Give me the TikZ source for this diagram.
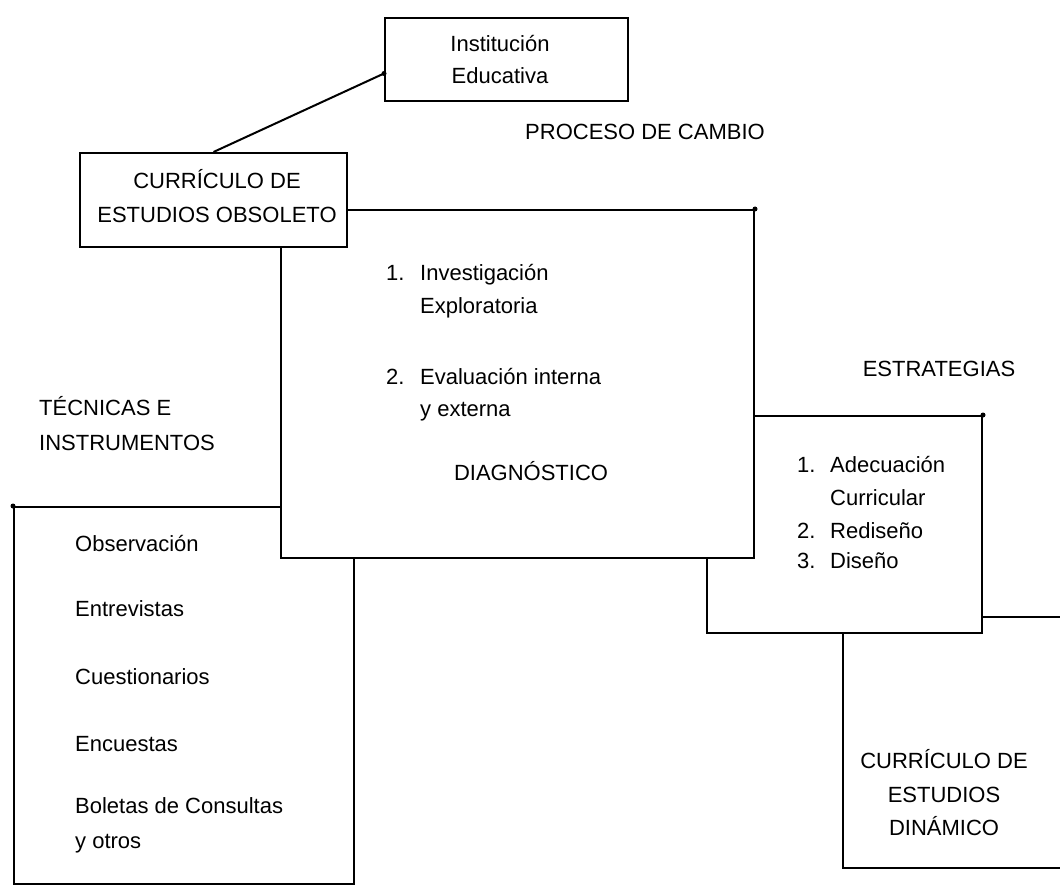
\documentclass[tikz,border=0pt]{standalone}
\usepackage{fontspec}
\setmainfont{Liberation Sans}
\begin{document}
\begin{tikzpicture}[x=1pt,y=-1pt,
  boxst/.style={draw=black, fill=white, line width=2pt, inner sep=0pt, anchor=north west},
  txt/.style={inner sep=0pt, font=\fontsize{22}{26}\selectfont, text=black},
  lt/.style={txt, anchor=base west},
  ct/.style={txt, anchor=base},
  link/.style={draw=black, line width=2pt},
  blob/.style={circle, fill=black, inner sep=0pt, minimum size=5pt}]
\useasboundingbox (0,0) rectangle (1060,885);
\clip (0,0) rectangle (1060,885);
\fill[white] (0,0) rectangle (1060,885);
% boxes, back to front
\node[boxst, minimum width=233pt, minimum height=251pt] (din) at (842,616) {};
\node[boxst, minimum width=275pt, minimum height=217pt] (estr) at (706,415) {};
\node[boxst, minimum width=340pt, minimum height=377pt] (tec) at (13,506) {};
\node[boxst, minimum width=473pt, minimum height=348pt] (diag) at (280,209) {};
\node[boxst, minimum width=267pt, minimum height=94pt] (cur) at (79,152) {};
\node[boxst, minimum width=243pt, minimum height=83pt] (inst) at (384,17) {};
% connector
\coordinate (ia) at ([yshift=-14pt]inst.west);
\draw[link] (ia) -- (cur.north);
\node[blob] (b1) at (ia) {};
\node[blob] (b2) at (diag.north east) {};
\node[blob] (b3) at (estr.north east) {};
\node[blob] (b4) at (tec.north west) {};
% texts
\node[ct] (t1) at (500,52) {Institución};
\node[ct] (t2) at (500,84) {Educativa};
\node[lt] (t3) at (525,140) {PROCESO DE CAMBIO};
\node[ct] (t4) at (217,189) {CURRÍCULO DE};
\node[ct] (t5) at (217,223) {ESTUDIOS OBSOLETO};
\node[lt] (d1) at (386,281) {1.};
\node[lt] (d2) at (420,281) {Investigación};
\node[lt] (d3) at (420,313) {Exploratoria};
\node[lt] (d4) at (386,384) {2.};
\node[lt] (d5) at (420,384) {Evaluación interna};
\node[lt] (d6) at (420,416) {y externa};
\node[ct] (d7) at (531,480) {DIAGNÓSTICO};
\node[ct] (e0) at (939,376) {ESTRATEGIAS};
\node[lt] (e1) at (797,472) {1.};
\node[lt] (e2) at (830,472) {Adecuación};
\node[lt] (e3) at (830,505) {Curricular};
\node[lt] (e4) at (797,538) {2.};
\node[lt] (e5) at (830,538) {Rediseño};
\node[lt] (e6) at (797,568) {3.};
\node[lt] (e7) at (830,568) {Diseño};
\node[lt] (k0) at (39,415) {TÉCNICAS E};
\node[lt] (k1) at (39,450) {INSTRUMENTOS};
\node[lt] (k2) at (75,551) {Observación};
\node[lt] (k3) at (75,616) {Entrevistas};
\node[lt] (k4) at (75,684) {Cuestionarios};
\node[lt] (k5) at (75,751) {Encuestas};
\node[lt] (k6) at (75,813) {Boletas de Consultas};
\node[lt] (k7) at (75,848) {y otros};
\node[ct] (n1) at (944,768) {CURRÍCULO DE};
\node[ct] (n2) at (944,802) {ESTUDIOS};
\node[ct] (n3) at (944,835) {DINÁMICO};
\end{tikzpicture}
\end{document}
